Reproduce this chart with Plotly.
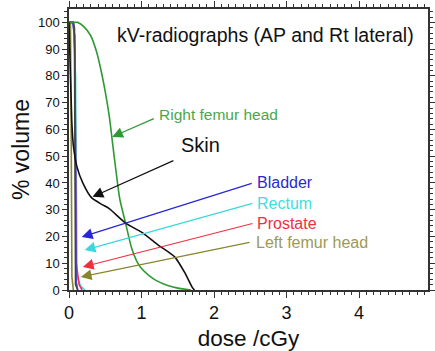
import plotly.graph_objects as go

# ---- data ----
green_x = [0.0, 0.04, 0.12, 0.2, 0.3, 0.38, 0.45, 0.5, 0.56, 0.6, 0.65, 0.7, 0.78, 0.86, 0.93, 1.0, 1.1, 1.2, 1.35, 1.5, 1.68]
green_y = [100, 100, 100, 98.5, 95, 89, 81, 74, 64, 55, 44, 34, 25, 16, 11, 8, 5.5, 3.6, 1.8, 0.7, 0]

skin_x = [0.0, 0.01, 0.02, 0.03, 0.04, 0.06, 0.11, 0.19, 0.31, 0.45, 0.55, 0.78, 1.0, 1.23, 1.46, 1.6, 1.7, 1.73]
skin_y = [100, 90, 80, 71, 62, 54, 46, 40, 34.5, 32, 30.5, 25, 21.6, 16.8, 12.3, 6.3, 1, 0]

olive_x = [0.0, 0.02, 0.03, 0.04, 0.06]
olive_y = [100, 100, 60, 5, 0]
dark_x = [0.0, 0.06, 0.075, 0.08, 0.09, 0.12]
dark_y = [100, 100, 98, 5, 2, 0]
blue_x = [0.0, 0.05, 0.08, 0.09, 0.1, 0.12]
blue_y = [100, 100, 95, 50, 3, 0]
red_x = [0.0, 0.06, 0.08, 0.1, 0.14, 0.18]
red_y = [100, 100, 90, 10, 2, 0]
cyan_x = [0.0, 0.06, 0.09, 0.11, 0.16, 0.22]
cyan_y = [100, 100, 80, 5, 1.5, 0]

# label / arrow positions (data coords): text pos, arrow tail, arrow tip
labels = ["Right femur head", "Skin", "Bladder", "Rectum", "Prostate", "Left femur head"]
label_x = [1.22, 1.52, 2.57, 2.57, 2.57, 2.55]
label_y = [65.4, 54.2, 40.0, 32.5, 25.0, 17.9]
tail_x = [1.19, 1.46, 2.54, 2.55, 2.55, 2.51]
tail_y = [64.3, 48.6, 40.0, 32.5, 25.0, 17.9]
tip_x = [0.595, 0.324, 0.176, 0.216, 0.19, 0.162]
tip_y = [57.2, 34.8, 19.8, 14.9, 8.6, 4.9]
label_size = [15.5, 20, 16, 16, 16, 16]
line_colors = ["#2f9a35", "#111111", "#2626d6", "#3ad8dc", "#f0303f", "#87862f"]
text_colors = ["#4aa84a", "#111111", "#2a2ad0", "#3fdde0", "#ee3040", "#9c9a55"]

fig = go.Figure()
lw = 1.6
fig.add_trace(go.Scatter(x=olive_x, y=olive_y, mode="lines", line=dict(color="#87862f", width=lw)))
fig.add_trace(go.Scatter(x=cyan_x, y=cyan_y, mode="lines", line=dict(color="#3ad8dc", width=lw)))
fig.add_trace(go.Scatter(x=red_x, y=red_y, mode="lines", line=dict(color="#f0305f", width=lw)))
fig.add_trace(go.Scatter(x=blue_x, y=blue_y, mode="lines", line=dict(color="#4a4ae0", width=lw)))
fig.add_trace(go.Scatter(x=dark_x, y=dark_y, mode="lines", line=dict(color="#444444", width=lw)))
fig.add_trace(go.Scatter(x=green_x, y=green_y, mode="lines", line=dict(color="#2f9a35", width=lw, shape="spline", smoothing=0.6)))
fig.add_trace(go.Scatter(x=skin_x, y=skin_y, mode="lines", line=dict(color="#111111", width=lw, shape="spline", smoothing=0.6)))

for i in range(len(labels)):
    fig.add_annotation(x=tip_x[i], y=tip_y[i], ax=tail_x[i], ay=tail_y[i],
                       xref="x", yref="y", axref="x", ayref="y", text="",
                       showarrow=True, arrowhead=2, arrowsize=1.8, arrowwidth=1.2,
                       arrowcolor=line_colors[i])
    fig.add_annotation(x=label_x[i], y=label_y[i], xref="x", yref="y", text=labels[i],
                       showarrow=False, xanchor="left", yanchor="middle",
                       font=dict(family="Liberation Sans, Arial", size=label_size[i], color=text_colors[i]))

fig.add_annotation(x=(269 - 69) / 74, y=(290 - 35) / 2.676, xref="x", yref="y",
                   text="kV-radiographs (AP and Rt lateral)", showarrow=False,
                   font=dict(family="Liberation Sans, Arial", size=19.5, color="#111111"))

fig.update_layout(
    width=435, height=351,
    margin=dict(l=69, r=0, t=9, b=61),
    paper_bgcolor="white", plot_bgcolor="white",
    showlegend=False,
    font=dict(family="Liberation Sans, Arial", color="#111111"),
)
fig.update_xaxes(
    range=[0, 4.95], tickvals=[0, 1, 2, 3, 4], ticks="outside", ticklen=6, tickwidth=1.2,
    tickcolor="#333", showline=True, linecolor="#333", linewidth=1.5, mirror="allticks",
    showgrid=False, zeroline=False, tickfont=dict(size=18),
    minor=dict(dtick=0.1, ticks="outside", ticklen=3, tickcolor="#333", showgrid=False),
    title=dict(text="dose /cGy", font=dict(size=22.5), standoff=12),
)
fig.update_yaxes(
    range=[0, 105], dtick=10, ticks="outside", ticklen=5, tickwidth=1.2,
    tickcolor="#333", showline=True, linecolor="#333", linewidth=1.5, mirror="allticks",
    showgrid=False, zeroline=False, tickfont=dict(size=13),
    minor=dict(dtick=2, ticks="outside", ticklen=3, tickcolor="#333", showgrid=False),
    title=dict(text="% volume", font=dict(size=23), standoff=2),
)

fig.write_html("out.html")
